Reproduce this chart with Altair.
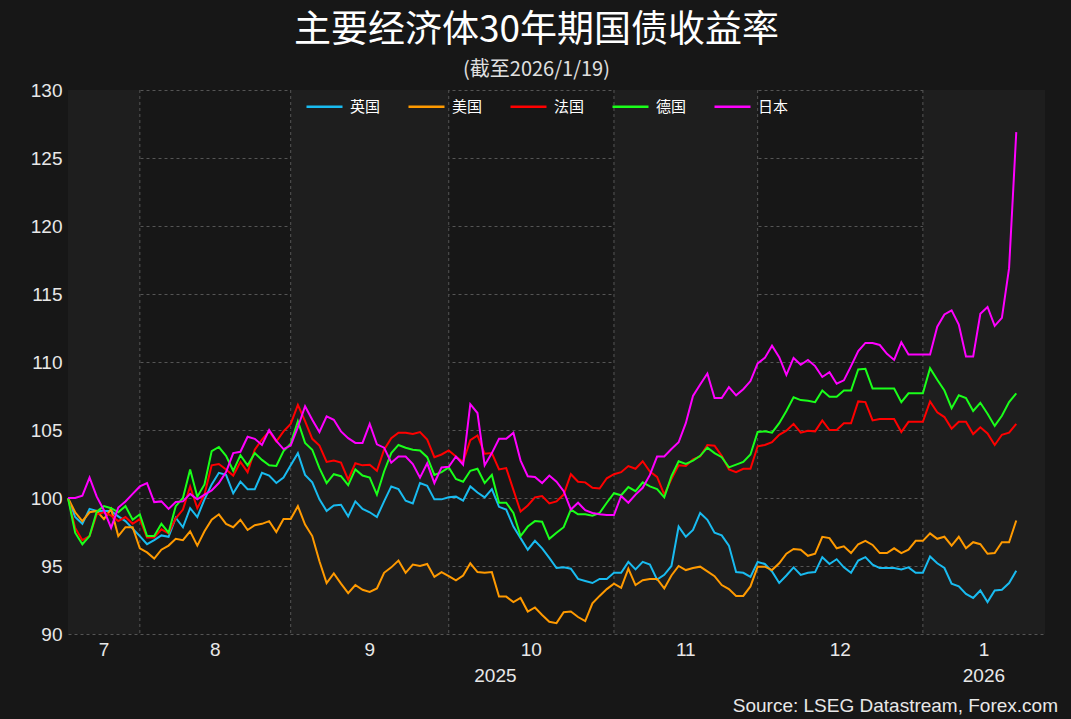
import altair as alt
import pandas as pd

# ---- data (index = trading day from 2025-07-17 to 2026-01-19, rebased to 100) ----
uk = [100, 98.6, 98.1, 99.2, 99.05, 99.05, 99.05, 98.65, 98.3, 97.75, 97.2, 96.6, 96.9, 97.25, 97.15, 98.55, 97.85, 99.25, 98.6, 99.9,
      101.0, 101.85, 101.7, 100.35, 101.2, 100.65, 100.65, 101.85, 101.65, 101.1, 101.5, 102.4, 103.3, 101.7, 101.15, 99.9, 99.05, 99.45, 99.5, 98.65,
      99.75, 99.2, 98.95, 98.6,
      99.75, 100.85, 100.65, 99.8, 99.6, 101.1, 100.9, 99.9, 99.9, 100.05, 100.1, 99.8, 100.85, 100.4, 100.05, 100.65, 99.35, 99.15, 97.9, 97.05,
      96.2, 96.85, 96.3, 95.6, 94.85, 94.9, 94.8, 94.05, 93.9, 93.75, 94.05, 94.05, 94.5, 94.5, 95.3, 94.75, 95.3, 95.1, 94.0, 94.35,
      95.0, 97.9, 97.15,
      97.65, 98.9, 98.4, 97.45, 97.25, 96.5, 94.55, 94.5, 94.2, 95.3, 95.15, 94.6, 93.75, 94.3, 94.9, 94.35, 94.5, 94.55, 95.65, 95.15,
      95.5, 94.9, 94.5, 95.4, 95.65, 95.1, 94.85, 94.85, 94.85, 94.75, 94.9, 94.5, 94.5, 95.7, 95.2, 94.85, 93.7, 93.5, 92.95, 92.65,
      93.2, 92.35, 93.2, 93.25, 93.75, 94.65]
us = [100, 98.95, 98.3, 98.95, 99.05, 98.45, 99.2, 97.2, 97.85, 97.85, 96.3, 96.0, 95.55, 96.2, 96.5, 97.0, 96.9, 97.55, 96.5, 97.55,
      98.4, 98.8, 98.1, 97.85, 98.4, 97.65, 98.0, 98.1, 98.3, 97.5, 98.45, 98.45, 99.4, 98.05, 97.2, 95.35, 93.75, 94.45, 93.7, 93.0,
      93.6, 93.25, 93.1, 93.35,
      94.5, 94.9, 95.4, 94.5, 95.1, 95.0, 95.15, 94.2, 94.55, 94.25, 93.95, 94.3, 95.2, 94.55, 94.5, 94.55, 92.75, 92.75, 92.35, 92.65,
      91.65, 91.95, 91.4, 90.9, 90.8, 91.6, 91.65, 91.25, 90.95, 92.25, 92.8, 93.3, 93.7, 93.4, 94.8, 93.6, 93.95, 94.05, 94.05, 93.35,
      94.3, 95.0, 94.7,
      94.85, 94.95, 94.6, 94.25, 93.6, 93.3, 92.8, 92.8, 93.5, 94.95, 94.95, 94.7, 95.2, 95.9, 96.25, 96.2, 95.75, 95.9, 97.15, 97.05,
      96.3, 96.45, 95.95, 96.6, 96.85, 96.55, 95.95, 95.95, 96.3, 95.95, 96.2, 96.85, 96.85, 97.4, 97.0, 97.15, 96.5, 97.15, 96.3, 96.75,
      96.6, 95.9, 95.95, 96.75, 96.75, 98.35]
fr = [100, 97.8, 96.9, 97.2, 98.8, 98.95, 98.7, 98.3, 98.6, 98.1, 98.45, 97.1, 97.1, 97.7, 97.4, 98.5, 99.15, 100.85, 99.25, 100.25,
      102.4, 102.5, 102.1, 101.65, 102.65, 101.9, 103.55, 104.3, 104.9, 104.15, 104.9, 105.45, 106.85, 105.65, 104.35, 103.85, 102.65, 102.75, 102.6, 101.35,
      102.55, 102.4, 102.45, 102.0,
      103.55, 104.4, 104.8, 104.8, 104.7, 104.85, 104.3, 103.0, 103.2, 103.5, 103.05, 102.65, 104.25, 104.6, 103.25, 103.3, 102.1, 102.2, 100.6, 99.0,
      99.45, 100.05, 100.15, 99.6, 99.75, 100.25, 101.75, 101.2, 101.15, 100.75, 100.7, 101.45, 101.75, 101.9, 102.35, 102.15, 102.7, 101.95, 101.55, 100.25,
      101.4, 102.4, 102.35,
      102.85, 103.05, 103.9, 103.85, 103.1, 102.1, 101.9, 102.15, 102.15, 103.8, 103.9, 104.1, 104.65, 104.95, 105.45, 104.8, 104.95, 104.9, 105.7, 105.0,
      105.0, 105.5, 105.5, 107.1, 107.05, 105.7, 105.8, 105.8, 105.8, 104.85, 105.6, 105.6, 105.6, 107.1, 106.3, 105.95, 105.1, 105.6, 105.6, 104.7,
      105.2, 104.75, 103.9, 104.65, 104.8, 105.45]
de = [100, 97.45, 96.6, 97.2, 99.0, 99.4, 99.25, 98.95, 99.4, 98.4, 98.8, 97.2, 97.2, 98.1, 97.45, 99.4, 100.0, 102.1, 100.1, 101.0,
      103.45, 103.75, 103.1, 102.0, 103.15, 102.4, 103.3, 102.8, 102.4, 102.35, 103.45, 104.0, 105.65, 104.05, 103.55, 102.2, 101.1, 101.75, 101.6, 100.95,
      102.1, 101.65, 101.5, 100.25,
      101.95, 103.3, 103.9, 103.7, 103.55, 103.5, 103.0, 101.7, 101.9, 102.25, 101.4, 101.2, 102.0, 102.15, 101.1, 101.7, 99.65, 99.65, 98.9, 97.2,
      97.9, 98.3, 98.25, 97.0, 97.45, 97.85, 99.15, 98.8, 98.8, 98.7, 98.9, 99.65, 100.35, 100.2, 100.8, 100.5, 101.15, 100.85, 100.65, 100.05,
      101.6, 102.7, 102.5,
      102.75, 103.1, 103.7, 103.3, 103.0, 102.25, 102.45, 102.65, 103.2, 104.85, 104.9, 104.8, 105.5, 106.4, 107.4, 107.2, 107.15, 107.05, 107.9, 107.45,
      107.45, 107.9, 107.9, 109.45, 109.5, 108.05, 108.05, 108.05, 108.05, 107.05, 107.7, 107.7, 107.7, 109.55, 108.7, 107.9, 106.6, 107.55, 107.35, 106.4,
      107.0, 106.2, 105.3, 106.05, 107.05, 107.7]
jp = [100, 100, 100.17, 101.5, 100.1, 99.1, 97.8, 99.3, 99.75, 100.3, 100.85, 101.1, 99.7, 99.75, 99.2, 99.7, 99.75, 100.3, 99.9, 100.25,
      100.55, 101.1, 101.9, 103.3, 103.4, 104.5, 104.35, 103.9, 105.0, 104.2, 103.6, 103.85, 105.2, 106.75, 105.75, 104.85, 106.0, 105.75, 104.9, 104.4,
      104.05, 104.05, 105.45, 103.95,
      103.7, 102.6, 103.05, 103.05, 102.5, 101.5, 102.55, 101.1, 102.25, 102.3, 103.05, 102.45, 106.9, 106.25, 102.4, 103.3, 104.35, 104.35, 104.8, 102.75,
      101.6, 101.55, 101.1, 101.65, 101.2, 100.5, 99.15, 99.65, 99.1, 98.9, 98.8, 98.75, 98.75, 100.15, 99.65, 100.25, 100.75, 101.7, 103.05, 103.05,
      103.6, 104.1, 105.5,
      107.5, 108.35, 109.15, 107.35, 107.35, 108.15, 107.55, 108.0, 108.6, 109.9, 110.3, 111.2, 110.35, 109.05, 110.3, 109.8, 110.15, 109.7, 108.9, 109.25,
      108.4, 108.65, 109.7, 110.8, 111.4, 111.4, 111.25, 110.6, 110.15, 111.45, 110.55, 110.55, 110.55, 110.55, 112.6, 113.5, 113.8, 112.75, 110.4, 110.4,
      113.55, 114.05, 112.65, 113.25, 116.9, 126.9]

series_names = ["英国", "美国", "法国", "德国", "日本"]
series_values = [uk, us, fr, de, jp]
colors = ["#19bbf0", "#ff9a00", "#ff0000", "#1aff1a", "#ff00ff"]

month_labels = ["7", "8", "9", "10", "11", "12", "1"]
month_centers = [5, 20.5, 42, 64.5, 86, 107.5, 127.5]
month_bounds = [10, 31, 53, 76, 96, 119]
band_starts = [0, 31, 76, 119]
band_ends = [10, 53, 96, 136]
year_labels = ["2025", "2026"]
year_pos = [59.5, 127.5]

W, H = 977, 544
CJK = "Noto Sans CJK SC"
LAT = "Liberation Sans"
TXT = "#e8e8e8"

rows = []
for name, vals in zip(series_names, series_values):
    for i, v in enumerate(vals):
        rows.append({"day": i, "value": v, "series": name})
df = pd.DataFrame(rows)

xscale = alt.Scale(domain=[0, 136], nice=False, zero=False)
yscale = alt.Scale(domain=[90, 130], nice=False, zero=False)

bands = alt.Chart(pd.DataFrame({"s": band_starts, "e": band_ends})).mark_rect(
    color="#1e1e1e"
).encode(
    x=alt.X("s:Q", scale=xscale, axis=None),
    x2="e:Q",
    y=alt.value(0),
    y2=alt.value(H),
)

vgrid = alt.Chart(pd.DataFrame({"b": month_bounds})).mark_rule(
    color="#555555", strokeDash=[3, 3], strokeWidth=1
).encode(x=alt.X("b:Q", scale=xscale, axis=None))

lines = alt.Chart(df).mark_line(strokeWidth=2).encode(
    x=alt.X("day:Q", scale=xscale, axis=None),
    y=alt.Y("value:Q", scale=yscale,
            axis=alt.Axis(values=list(range(90, 131, 5)), grid=True, gridDash=[3, 3],
                          gridColor="#555555", gridWidth=1, ticks=False, domain=False,
                          labelColor=TXT, labelFontSize=19, labelFont=LAT,
                          labelPadding=6, title=None)),
    color=alt.Color("series:N", sort=series_names,
                    scale=alt.Scale(domain=series_names, range=colors),
                    legend=alt.Legend(orient="none", legendX=237, legendY=-3,
                                      direction="horizontal", title=None,
                                      symbolType="stroke", symbolSize=1296,
                                      symbolStrokeWidth=2.5, labelFont=CJK,
                                      labelFontSize=15, labelColor="#ffffff",
                                      labelOffset=6, columnPadding=22, padding=0)),
)

months = alt.Chart(pd.DataFrame({"m": month_labels, "x": month_centers})).mark_text(
    font=LAT, fontSize=19, color=TXT, baseline="middle"
).encode(x=alt.X("x:Q", scale=xscale, axis=None), y=alt.value(H + 16), text="m:N")

years = alt.Chart(pd.DataFrame({"yl": year_labels, "x": year_pos})).mark_text(
    font=LAT, fontSize=19, color=TXT, baseline="middle"
).encode(x=alt.X("x:Q", scale=xscale, axis=None), y=alt.value(H + 42), text="yl:N")

source = alt.Chart(pd.DataFrame({"t": ["Source: LSEG Datastream, Forex.com"]})).mark_text(
    font=LAT, fontSize=19, color=TXT, align="right", baseline="middle"
).encode(x=alt.value(990), y=alt.value(H + 72), text="t:N")

chart = alt.layer(bands, vgrid, lines, months, years, source).properties(
    width=W, height=H,
    autosize=alt.AutoSizeParams(type="none"),
    padding={"left": 68, "top": 90, "right": 26, "bottom": 85},
    title=alt.Title(text="主要经济体30年期国债收益率", subtitle="(截至2026/1/19)",
                    font=CJK, fontSize=37, fontWeight="normal", color="#ffffff",
                    subtitleFont=CJK, subtitleFontSize=20, subtitleColor="#e0e0e0",
                    anchor="middle", dx=-20, offset=0, subtitlePadding=10),
).configure(background="#171717").configure_view(stroke=None)

chart.save("out.html", embed_options={"renderer": "svg", "actions": False})
